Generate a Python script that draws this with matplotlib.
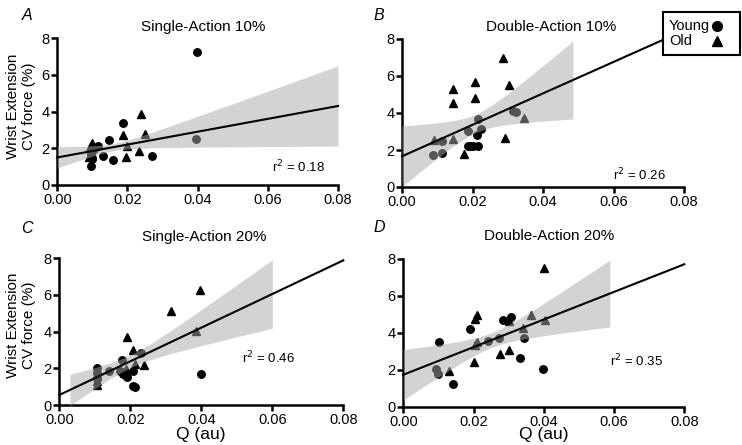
import numpy as np
import matplotlib
matplotlib.use("Agg")
import matplotlib.pyplot as plt

plt.rcParams['font.family'] = ['Liberation Sans', 'DejaVu Sans']

# ---------------- data ----------------
titles = ["Single-Action 10%", "Double-Action 10%", "Single-Action 20%", "Double-Action 20%"]
letters = ["A", "B", "C", "D"]
r2_labels = ["0.18", "0.26", "0.46", "0.35"]
xticks = [0.00, 0.02, 0.04, 0.06, 0.08]
yticks = [0, 2, 4, 6, 8]
xtick_labels = ["0.00", "0.02", "0.04", "0.06", "0.08"]

# Panel A: Single-Action 10%
a_young_x = [0.0398, 0.0395, 0.0186, 0.0146, 0.0131, 0.0160, 0.0269, 0.0095, 0.0098, 0.0117, 0.0105, 0.0095, 0.0100]
a_young_y = [7.24, 2.52, 3.35, 2.44, 1.59, 1.37, 1.59, 1.05, 1.41, 2.14, 1.95, 1.75, 1.45]
a_old_x = [0.0239, 0.0188, 0.0250, 0.0198, 0.0196, 0.0232, 0.0100, 0.0093, 0.0091, 0.0095]
a_old_y = [3.89, 2.73, 2.77, 2.12, 1.54, 1.83, 2.30, 2.05, 1.54, 1.85]

# Panel B: Double-Action 10%
b_young_x = [0.0314, 0.0323, 0.0216, 0.0224, 0.0186, 0.0213, 0.0113, 0.0186, 0.0193, 0.0200, 0.0216, 0.0089, 0.0114]
b_young_y = [4.11, 4.04, 3.66, 3.14, 3.01, 2.79, 2.50, 2.22, 2.22, 2.22, 2.23, 1.75, 1.85]
b_old_x = [0.0286, 0.0145, 0.0208, 0.0304, 0.0145, 0.0206, 0.0347, 0.0292, 0.0146, 0.0091, 0.0177]
b_old_y = [6.99, 5.30, 5.68, 5.51, 4.52, 4.79, 3.71, 2.67, 2.59, 2.52, 1.78]

# Panel C: Single-Action 20%
c_young_x = [0.0398, 0.0229, 0.0177, 0.0208, 0.0192, 0.0207, 0.0213, 0.0180, 0.0105, 0.0141, 0.0105, 0.0105, 0.0170]
c_young_y = [1.72, 2.86, 2.48, 1.86, 1.54, 1.03, 1.00, 1.72, 2.03, 1.86, 1.45, 1.75, 1.85]
c_old_x = [0.0396, 0.0316, 0.0384, 0.0192, 0.0207, 0.0239, 0.0213, 0.0188, 0.0105, 0.0105, 0.0105]
c_old_y = [6.28, 5.10, 4.02, 3.71, 2.99, 2.21, 2.26, 1.99, 1.72, 1.09, 1.30]

# Panel D: Double-Action 20%
d_young_x = [0.0283, 0.0307, 0.0190, 0.0345, 0.0272, 0.0242, 0.0103, 0.0332, 0.0399, 0.0093, 0.0098, 0.0142]
d_young_y = [4.69, 4.87, 4.21, 3.71, 3.71, 3.58, 3.52, 2.66, 2.03, 2.03, 1.76, 1.24]
d_old_x = [0.0400, 0.0211, 0.0205, 0.0302, 0.0363, 0.0402, 0.0342, 0.0209, 0.0302, 0.0275, 0.0202, 0.0131, 0.0205]
d_old_y = [7.48, 4.96, 4.73, 4.64, 4.95, 4.69, 4.25, 3.52, 3.08, 2.86, 2.45, 1.96, 3.35]

# regression lines (intercept, slope, x-start, x-end)
fit_intercept = [1.50, 1.66, 0.56, 1.74]
fit_slope = [35.0, 85.0, 91.4, 74.5]
fit_x0 = [0.0, 0.0, 0.0, 0.0]
fit_x1 = [0.08, 0.08, 0.08, 0.08]

# confidence bands: x-range, centre, min half-width, growth
band_x0 = [0.0, 0.0, 0.003, 0.0]
band_x1 = [0.08, 0.0485, 0.060, 0.0588]
band_xc = [0.016, 0.021, 0.020, 0.025]
band_a = [0.20, 0.50, 0.35, 0.40]
band_b = [34.0, 74.4, 45.6, 52.0]

r2_x = [0.0613, 0.0599, 0.0515, 0.0589]
r2_y = [0.98, 0.65, 2.58, 2.47]

young_x = [a_young_x, b_young_x, c_young_x, d_young_x]
young_y = [a_young_y, b_young_y, c_young_y, d_young_y]
old_x = [a_old_x, b_old_x, c_old_x, d_old_x]
old_y = [a_old_y, b_old_y, c_old_y, d_old_y]

# ---------------- layout ----------------
W, H = 742, 445
fig = plt.figure(figsize=(W / 100, H / 100), dpi=100)

# axes boxes in pixels: (left, right, bottom(y=0), top(y=8))
boxes = [(57.3, 338.0, 185.0, 38.0),
         (402.0, 684.0, 187.0, 39.0),
         (59.3, 343.3, 405.3, 258.0),
         (403.3, 684.3, 407.0, 258.7)]
title_pos = [(203, 27), (551, 27), (204, 237), (549, 236)]
letter_pos = [(27, 15), (379, 15), (27, 229), (379, 228)]

band_color = '#a8a8a8'

for i in range(4):
    l, r, b, t = boxes[i]
    ax = fig.add_axes([l / W, 1 - b / H, (r - l) / W, (b - t) / H])
    ax.set_xlim(0, 0.08)
    ax.set_ylim(0, 8)
    for s in ['top', 'right']:
        ax.spines[s].set_visible(False)
    for s in ['left', 'bottom']:
        ax.spines[s].set_linewidth(1.8)
    ax.set_xticks(xticks)
    ax.set_xticklabels(xtick_labels)
    ax.set_yticks(yticks)
    ax.tick_params(direction='out', length=4, width=1.8, labelsize=10.5, pad=1.5)
    ax.patch.set_alpha(0)

    ax.plot(young_x[i], young_y[i], 'o', color='black', markersize=5.4, clip_on=False, zorder=2)
    ax.plot(old_x[i], old_y[i], '^', color='black', markersize=6.3, clip_on=False, zorder=2)

    bx = np.linspace(band_x0[i], band_x1[i], 200)
    yhat = fit_intercept[i] + fit_slope[i] * bx
    hw = np.sqrt(band_a[i] ** 2 + (band_b[i] * (bx - band_xc[i])) ** 2)
    ax.fill_between(bx, yhat - hw, yhat + hw, color=band_color, alpha=0.5, lw=0, zorder=3)

    lx = np.array([fit_x0[i], fit_x1[i]])
    ax.plot(lx, fit_intercept[i] + fit_slope[i] * lx, color='black', lw=1.5, clip_on=False, zorder=4)

    ax.text(r2_x[i], r2_y[i], "r$^2$ = " + r2_labels[i], fontsize=9.5, va='center', ha='left')

    fig.text(title_pos[i][0] / W, 1 - title_pos[i][1] / H, titles[i], fontsize=11, ha='center', va='center')
    fig.text(letter_pos[i][0] / W, 1 - letter_pos[i][1] / H, letters[i], fontsize=11.5,
             style='italic', ha='center', va='center')

# y labels
for yc in [106, 325]:
    fig.text(21 / W, 1 - yc / H, "Wrist Extension\nCV force (%)", rotation=90, fontsize=11,
             ha='center', va='center', multialignment='center', linespacing=1.1)

# x labels
for xc in [200.5, 543.5]:
    fig.text(xc / W, 1 - 435 / H, "Q (au)", fontsize=12.5, ha='center', va='center')

# legend box
lax = fig.add_axes([662.7 / W, 1 - 55 / H, (740 - 662.7) / W, (55 - 12.3) / H], zorder=10)
lax.set_xlim(0, 1)
lax.set_ylim(0, 1)
lax.set_xticks([])
lax.set_yticks([])
lax.set_facecolor('white')
for s in lax.spines.values():
    s.set_linewidth(1.5)
lax.text(0.08, 0.67, "Young", fontsize=10.5, va='center', ha='left')
lax.text(0.08, 0.33, "Old", fontsize=10.5, va='center', ha='left')
lax.plot([0.70], [0.67], 'o', color='black', markersize=7)
lax.plot([0.70], [0.33], '^', color='black', markersize=7)

fig.savefig("out.png", dpi=100)
